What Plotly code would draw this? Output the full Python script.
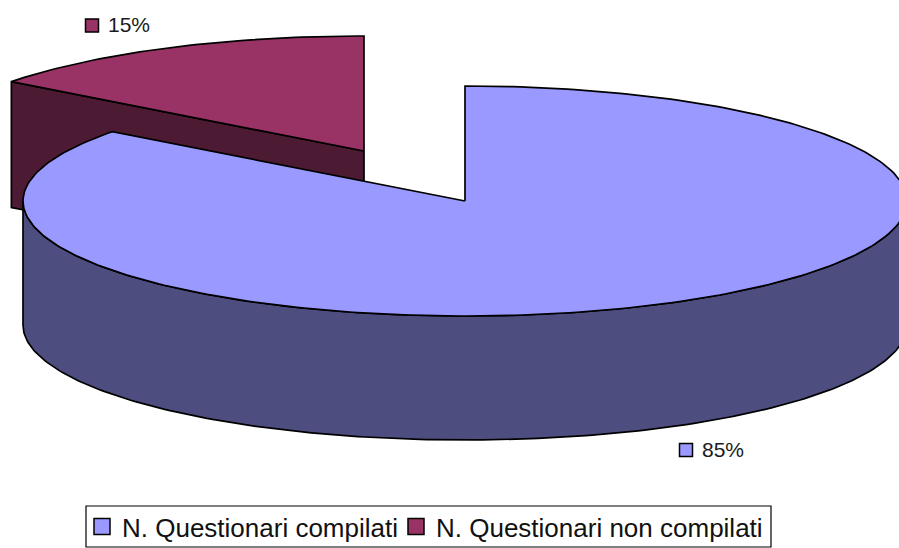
import numpy as np
import plotly.graph_objects as go

categories = ["N. Questionari compilati", "N. Questionari non compilati"]
shares = [85.3, 14.7]
labels = ["85%", "15%"]
top_colors = ["#9999FF", "#993366"]
side_colors = ["#4D4D80", "#4D1A33"]

W, H = 899, 548
RX, RY, DEPTH = 442, 115, 124
big_c = (465, 201)
small_c = (364, 151)
sweep = np.deg2rad(shares[1] / sum(shares) * 360)


def pt(c, rx, t):
    # t measured counter-clockwise from 12 o'clock
    return c[0] - rx * np.sin(t), c[1] - RY * np.cos(t)


fig = go.Figure()


def poly(xs, ys, color):
    fig.add_trace(go.Scatter(
        x=list(xs), y=list(ys), mode="lines", fill="toself", fillcolor=color,
        line=dict(color="black", width=1.7), hoverinfo="skip", showlegend=False))


# small slice: inner wall, then top
ex, ey = pt(small_c, RX, sweep)
poly([small_c[0], ex, ex, small_c[0], small_c[0]],
     [small_c[1], ey, ey + DEPTH + 2, small_c[1] + DEPTH, small_c[1]], side_colors[1])
t = np.linspace(0, sweep, 60)
x, y = pt(small_c, RX, t)
poly(np.r_[small_c[0], x, small_c[0]], np.r_[small_c[1], y, small_c[1]], top_colors[1])

# big slice: outer wall (visible front half), then top
t = np.linspace(np.pi / 2, 3 * np.pi / 2, 200)
x, y = pt(big_c, RX, t)
poly(np.r_[x, x[::-1], x[0]], np.r_[y, (y + DEPTH)[::-1], y[0]], side_colors[0])
t = np.linspace(sweep, 2 * np.pi, 300)
x, y = pt(big_c, RX, t)
poly(np.r_[big_c[0], x, big_c[0]], np.r_[big_c[1], y, big_c[1]], top_colors[0])

# data labels with key squares
label_pos = [(686, 450), (92, 25.5)]
for lab, (lx, ly), col in zip(labels, label_pos, top_colors):
    fig.add_trace(go.Scatter(
        x=[lx], y=[ly], mode="markers", hoverinfo="skip", showlegend=False,
        marker=dict(symbol="square", size=13, color=col, line=dict(color="black", width=1.5))))
    fig.add_annotation(x=lx + 13.5, y=ly - 1, text=lab, showarrow=False, xanchor="left",
                       yanchor="middle", font=dict(family="Liberation Sans", size=21, color="#1a1a1a"))

# legend entries, one legend each so the spacing can follow the reference
legend_ids = ["legend", "legend2"]
legend_x = [82, 396]
for name, col, lid in zip(categories, top_colors, legend_ids):
    fig.add_trace(go.Scatter(
        x=[None], y=[None], mode="markers", name=name, legend=lid, showlegend=True,
        marker=dict(symbol="square", size=16, color=col, line=dict(color="black", width=1.5))))

legend_style = dict(orientation="h", y=1 - 550 / H, xanchor="left", yanchor="bottom",
                    borderwidth=0, bgcolor="rgba(0,0,0,0)",
                    font=dict(family="Liberation Sans", size=26, color="#111111"),
                    itemwidth=30, traceorder="normal")

fig.update_layout(
    width=W, height=H, margin=dict(l=0, r=0, t=0, b=0, autoexpand=False),
    paper_bgcolor="white", plot_bgcolor="white",
    xaxis=dict(range=[0, W], visible=False, fixedrange=True),
    yaxis=dict(range=[H, 0], visible=False, fixedrange=True),
    legend=dict(x=legend_x[0] / W, **legend_style),
    legend2=dict(x=legend_x[1] / W, **legend_style),
    shapes=[dict(type="rect", xref="x", yref="y", x0=86, x1=771, y0=506, y1=547,
                 line=dict(color="black", width=1.2), layer="below")],
)
fig.write_html("out.html", post_script="document.body.style.margin='0';",
               config={"displayModeBar": False})
